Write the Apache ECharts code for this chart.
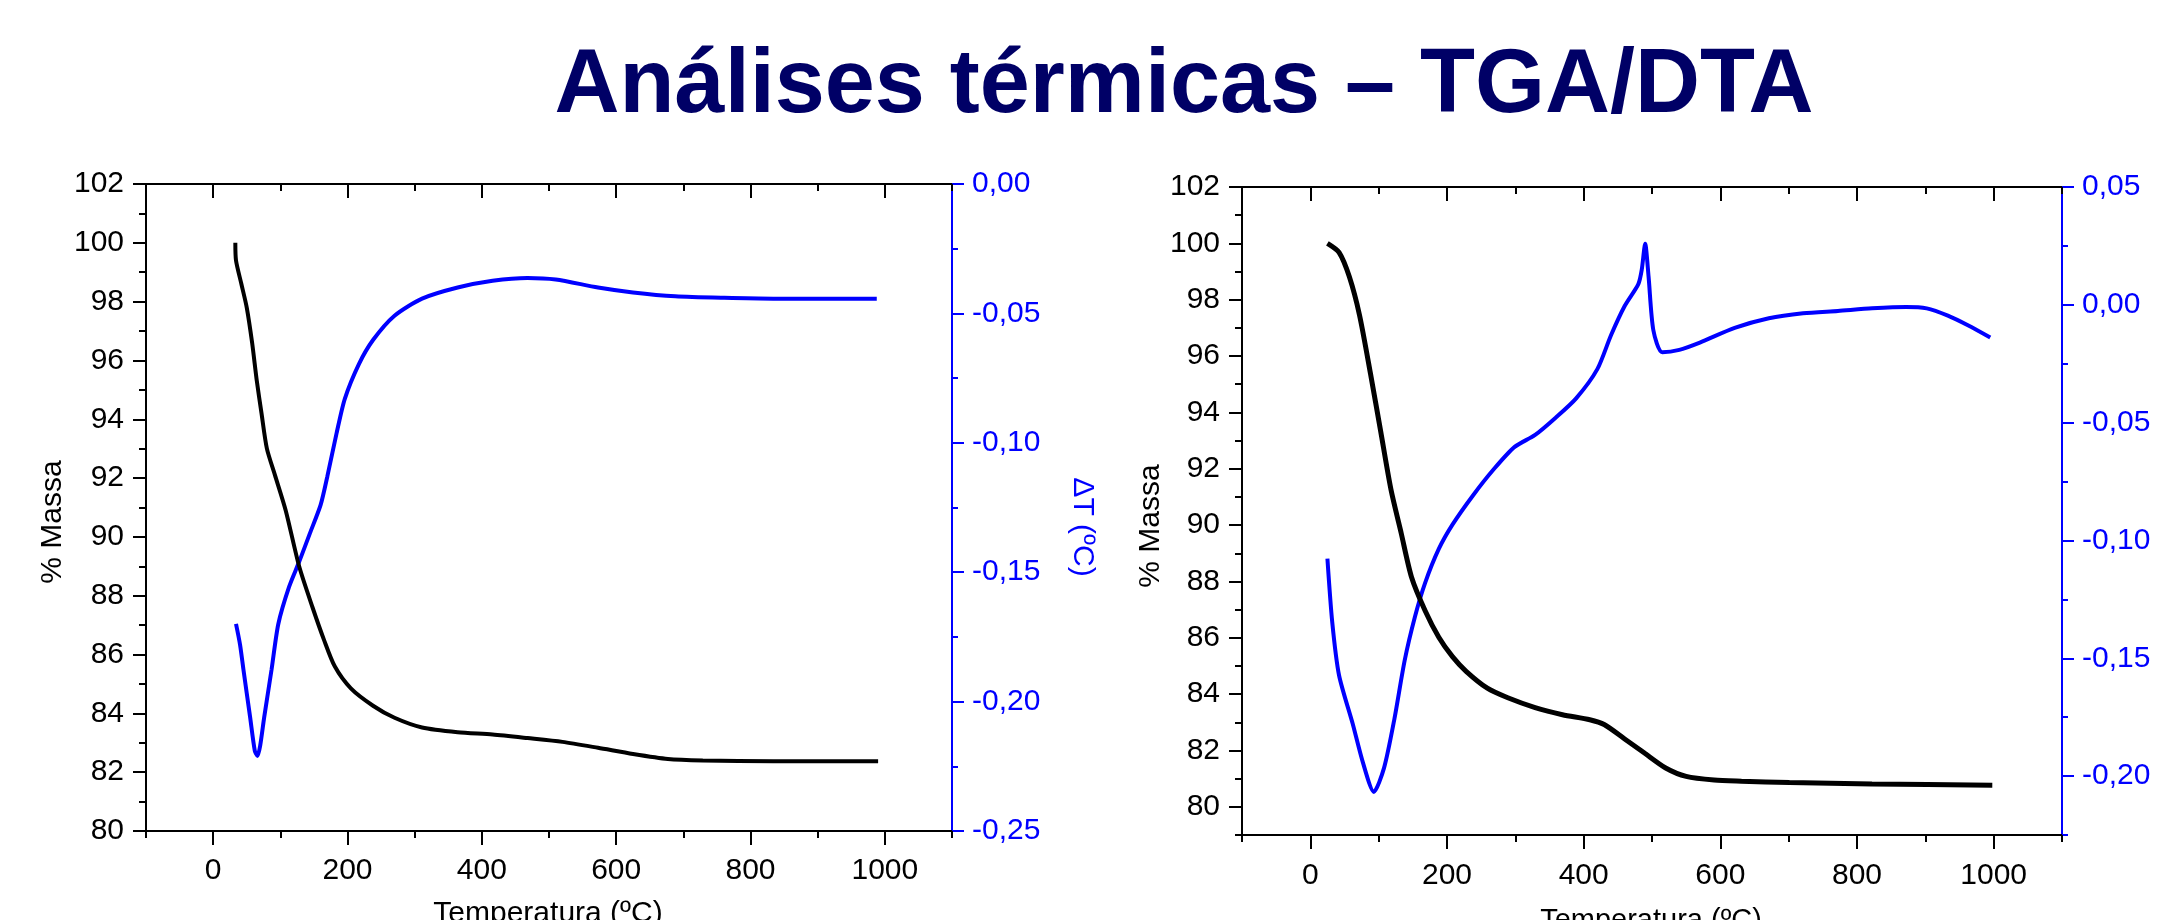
<!DOCTYPE html>
<html>
<head>
<meta charset="utf-8">
<script src="https://cdn.jsdelivr.net/npm/echarts@6/dist/echarts.min.js"></script>
<style>
html,body{margin:0;padding:0;background:#fff;}
#chart{width:2158px;height:920px;}
</style>
</head>
<body>
<div id="chart"></div>
<script>
// ---------- DATA ----------
const titleText = 'Análises térmicas – TGA/DTA';
const xTitle = 'Temperatura (ºC)';
const yLeftTitle = '% Massa';
const yRightTitle = 'ΔT (ºC)';

// Left chart: TGA (% mass) vs temperature
const tgaLeft = [[33,100],[34,99.4],[42,98.6],[50,97.8],[58,96.6],[65,95.3],[72,94.2],[80,93.0],[92,92.1],[108,90.9],[128,89.0],[148,87.6],[165,86.5],[181,85.6],[205,84.85],[238,84.26],[270,83.85],[311,83.52],[364,83.36],[416,83.28],[468,83.16],[520,83.03],[573,82.83],[625,82.62],[677,82.45],[729,82.40],[834,82.37],[990,82.37]];
// Left chart: DTA (ΔT) vs temperature
const dtaLeft = [[34,-0.170],[40,-0.178],[45,-0.1875],[55,-0.206],[62,-0.219],[66,-0.221],[70,-0.217],[76,-0.206],[87,-0.1875],[97,-0.170],[113,-0.1557],[128,-0.146],[144,-0.135],[160,-0.124],[170,-0.113],[184,-0.096],[196,-0.083],[217,-0.0696],[238,-0.0603],[270,-0.0509],[311,-0.0443],[364,-0.0400],[416,-0.0374],[468,-0.0363],[510,-0.0369],[573,-0.0400],[625,-0.0419],[688,-0.0434],[761,-0.0440],[834,-0.0443],[988,-0.0443]];

// Right chart: TGA
const tgaRight = [[25,100],[42,99.68],[57,98.82],[72,97.45],[88,95.38],[103,93.32],[118,91.26],[133,89.71],[148,88.16],[168,86.96],[188,86.02],[208,85.33],[228,84.81],[259,84.21],[289,83.87],[329,83.52],[369,83.27],[409,83.09],[430,82.92],[460,82.41],[490,81.89],[520,81.38],[550,81.08],[591,80.95],[631,80.91],[701,80.86],[822,80.81],[998,80.77]];
// Right chart: DTA
const dtaRight = [[25,-0.1077],[32,-0.1345],[42,-0.1572],[62,-0.1778],[77,-0.1943],[93,-0.2067],[108,-0.1964],[123,-0.1758],[138,-0.1510],[153,-0.1325],[168,-0.1180],[188,-0.1036],[208,-0.0933],[238,-0.0809],[269,-0.0696],[299,-0.0603],[329,-0.0552],[359,-0.0479],[389,-0.0397],[420,-0.0273],[440,-0.0129],[460,-0.0005],[480,0.0088],[485,0.0149],[490,0.0259],[495,0.0119],[502,-0.0108],[515,-0.0201],[540,-0.0191],[570,-0.0160],[621,-0.0098],[671,-0.0057],[721,-0.0036],[772,-0.0026],[822,-0.0015],[872,-0.0009],[902,-0.0015],[933,-0.0046],[963,-0.0088],[995,-0.0139]];

// Tick values
const xMajor = [0,200,400,600,800,1000];
const xMinor = [-100,100,300,500,700,900,1100];
const yLeftMajor = [80,82,84,86,88,90,92,94,96,98,100,102];
const yLeftMinorA = [81,83,85,87,89,91,93,95,97,99,101];
const yLeftMinorB = [79,81,83,85,87,89,91,93,95,97,99,101];
const dtMajorA = [-0.25,-0.20,-0.15,-0.10,-0.05,0.00];
const dtMinorA = [-0.225,-0.175,-0.125,-0.075,-0.025];
const dtMajorB = [-0.20,-0.15,-0.10,-0.05,0.00,0.05];
const dtMinorB = [-0.225,-0.175,-0.125,-0.075,-0.025,0.025];

// ---------- CHART ----------
const FONT = '"Liberation Sans", Arial, sans-serif';
const BLACK = '#000000';
const BLUE = '#0000ff';

const grids = [
  {left:146, top:184, width:806, height:647},
  {left:1242, top:187, width:820, height:648}
];
const xLabelMargins = [25, 26];
const yRanges = [[80,102],[79,102]];
const dtRanges = [[-0.25,0],[-0.225,0.05]];
const yMinors = [yLeftMinorA, yLeftMinorB];
const dtMajors = [dtMajorA, dtMajorB];
const dtMinors = [dtMinorA, dtMinorB];
const tgaWidths = [4, 5];

function fmtDT(v){
  const r = Math.round(v*100)/100;
  if (Math.abs(r) < 1e-9) return '0,00';
  return r.toFixed(2).replace('.', ',');
}
function fmtPlain(v){ return String(Math.round(v)); }

const xAxes = [], yAxes = [], series = [];
grids.forEach((g, gi) => {
  const xi = xAxes.length;
  xAxes.push({gridIndex:gi, type:'value', min:-100, max:1100, position:'bottom',
    axisLine:{show:true, onZero:false, lineStyle:{color:BLACK, width:2}},
    axisTick:{show:true, inside:false, length:14, customValues:xMajor, lineStyle:{color:BLACK, width:2}},
    axisLabel:{show:true, customValues:xMajor, color:BLACK, fontSize:30, fontFamily:FONT, margin:xLabelMargins[gi], formatter:fmtPlain},
    splitLine:{show:false}});
  xAxes.push({gridIndex:gi, type:'value', min:-100, max:1100, position:'bottom',
    axisLine:{show:false, onZero:false},
    axisTick:{show:true, inside:false, length:7, customValues:xMinor, lineStyle:{color:BLACK, width:2}},
    axisLabel:{show:false}, splitLine:{show:false}});
  xAxes.push({gridIndex:gi, type:'value', min:-100, max:1100, position:'top',
    axisLine:{show:true, onZero:false, lineStyle:{color:BLACK, width:2}},
    axisTick:{show:true, inside:true, length:14, customValues:xMajor, lineStyle:{color:BLACK, width:2}},
    axisLabel:{show:false}, splitLine:{show:false}});
  xAxes.push({gridIndex:gi, type:'value', min:-100, max:1100, position:'top',
    axisLine:{show:false, onZero:false},
    axisTick:{show:true, inside:true, length:7, customValues:xMinor, lineStyle:{color:BLACK, width:2}},
    axisLabel:{show:false}, splitLine:{show:false}});

  const yi = yAxes.length;
  yAxes.push({gridIndex:gi, type:'value', min:yRanges[gi][0], max:yRanges[gi][1], position:'left',
    axisLine:{show:true, onZero:false, lineStyle:{color:BLACK, width:2}},
    axisTick:{show:true, inside:false, length:13, customValues:yLeftMajor, lineStyle:{color:BLACK, width:2}},
    axisLabel:{show:true, customValues:yLeftMajor, color:BLACK, fontSize:30, fontFamily:FONT, margin:22, formatter:fmtPlain},
    splitLine:{show:false}});
  yAxes.push({gridIndex:gi, type:'value', min:yRanges[gi][0], max:yRanges[gi][1], position:'left',
    axisLine:{show:false, onZero:false},
    axisTick:{show:true, inside:false, length:7, customValues:yMinors[gi], lineStyle:{color:BLACK, width:2}},
    axisLabel:{show:false}, splitLine:{show:false}});
  const ri = yAxes.length;
  yAxes.push({gridIndex:gi, type:'value', min:dtRanges[gi][0], max:dtRanges[gi][1], position:'right',
    axisLine:{show:true, onZero:false, lineStyle:{color:BLUE, width:2}},
    axisTick:{show:true, inside:false, length:12, customValues:dtMajors[gi], lineStyle:{color:BLUE, width:2}},
    axisLabel:{show:true, customValues:dtMajors[gi], color:BLUE, fontSize:30, fontFamily:FONT, margin:20, formatter:fmtDT},
    splitLine:{show:false}});
  yAxes.push({gridIndex:gi, type:'value', min:dtRanges[gi][0], max:dtRanges[gi][1], position:'right',
    axisLine:{show:false, onZero:false},
    axisTick:{show:true, inside:false, length:6, customValues:dtMinors[gi], lineStyle:{color:BLUE, width:2}},
    axisLabel:{show:false}, splitLine:{show:false}});

  series.push({type:'line', name:'TGA'+gi, xAxisIndex:xi, yAxisIndex:yi,
    data: gi===0 ? tgaLeft : tgaRight, showSymbol:false, smooth:0.25,
    lineStyle:{color:BLACK, width:tgaWidths[gi]}, itemStyle:{color:BLACK}, z:3});
  series.push({type:'line', name:'DTA'+gi, xAxisIndex:xi, yAxisIndex:ri,
    data: gi===0 ? dtaLeft : dtaRight, showSymbol:false, smooth:0.25,
    lineStyle:{color:BLUE, width:4}, itemStyle:{color:BLUE}, z:2});
});

const graphics = [
  {type:'text', x:1184, y:87, style:{text:titleText, font:'bold 90px ' + FONT, fill:'#000066', align:'center', verticalAlign:'middle'}},
  {type:'text', x:53, y:522, rotation:Math.PI/2, style:{text:yLeftTitle, font:'30px ' + FONT, fill:BLACK, align:'center', verticalAlign:'middle'}},
  {type:'text', x:1151, y:526, rotation:Math.PI/2, style:{text:yLeftTitle, font:'30px ' + FONT, fill:BLACK, align:'center', verticalAlign:'middle'}},
  {type:'text', x:1082, y:527, rotation:-Math.PI/2, style:{text:yRightTitle, font:'30px ' + FONT, fill:BLUE, align:'center', verticalAlign:'middle'}},
  {type:'text', x:548, y:914, style:{text:xTitle, font:'30px ' + FONT, fill:BLACK, align:'center', verticalAlign:'middle'}},
  {type:'text', x:1651, y:921, style:{text:xTitle, font:'29px ' + FONT, fill:BLACK, align:'center', verticalAlign:'middle'}}
];

const chart = echarts.init(document.getElementById('chart'), null, {renderer:'canvas'});
chart.setOption({
  backgroundColor:'#ffffff',
  animation:false,
  grid: grids.map(g => Object.assign({containLabel:false}, g)),
  xAxis: xAxes,
  yAxis: yAxes,
  series: series,
  graphic: graphics
});
</script>
</body>
</html>
